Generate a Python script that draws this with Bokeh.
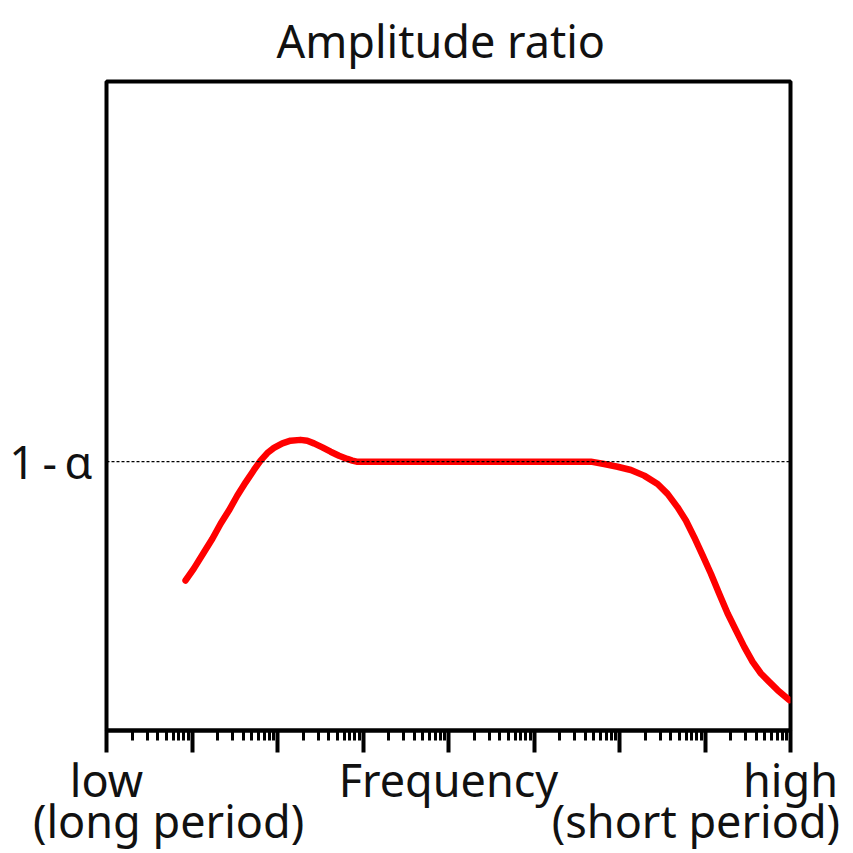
from bokeh.plotting import figure
from bokeh.models import Span, FixedTicker, Range1d, LogAxis
from bokeh.embed import file_html
from bokeh.resources import INLINE

# Data (frequency on log axis, amplitude ratio; 1-alpha == 1.0)
freq = [8.41, 10.5, 13.8, 17.3, 21.6, 27.0, 33.9, 42.4, 53.0, 63.4, 76.0, 90.8,
        114, 142, 186, 223, 267, 335, 418, 524, 657, 751, 843,
        462000, 661000, 949000, 1.358e6, 1.944e6, 2.79e6, 3.65e6, 4.78e6,
        5.98e6, 7.48e6, 9.38e6, 1.173e7, 1.467e7, 1.840e7, 2.301e7, 2.878e7,
        3.609e7, 4.512e7, 5.644e7, 7.08e7, 9.68e7]
amp = [0.558, 0.602, 0.663, 0.713, 0.769, 0.818, 0.874, 0.923, 0.969, 1.004,
       1.032, 1.051, 1.068, 1.078, 1.081, 1.078, 1.068, 1.053, 1.037, 1.022,
       1.010, 1.004, 1.0,
       1.0, 0.991, 0.981, 0.969, 0.948, 0.917, 0.880, 0.830,
       0.781, 0.719, 0.651, 0.583, 0.509, 0.435, 0.373, 0.311,
       0.255, 0.212, 0.181, 0.150, 0.113]

major_ticks = [1, 10, 100, 1e3, 1e4, 1e5, 1e6, 1e7, 1e8]
minor_ticks = [m * 10 ** d for d in range(8) for m in range(2, 10)]
ref_level = 1.0

title_text = "Amplitude ratio"
first_row = {1: "low", 1e4: "Frequency", 1e8: "high"}
second_row_ticks = [5.32, 7.83e6]
second_row = {5.32: "(long period)", 7.83e6: "(short period)"}
y_label = {1.0: "1\u2009-\u2009α"}

FONT = "Noto Sans"
TXT = "#111111"

p = figure(width=853, height=853, x_axis_type="log",
           x_range=Range1d(1, 1e8), y_range=Range1d(0, 2.414),
           output_backend="svg", toolbar_location=None,
           min_border_left=106, min_border_right=63,
           min_border_top=80, min_border_bottom=122)

p.grid.visible = False
p.outline_line_color = "black"
p.outline_line_width = 4
p.outline_line_alpha = 1.0

p.title.text = title_text
p.title.align = "left"
p.title.offset = 170
p.title.vertical_align = "top"
p.title.text_font = FONT
p.title.text_font_size = "45px"
p.title.text_font_style = "normal"
p.title.text_color = TXT
p.title.standoff = 18

ax = p.xaxis[0]
ax.ticker = FixedTicker(ticks=major_ticks, minor_ticks=minor_ticks)
ax.axis_line_width = 4
ax.major_tick_line_width = 4
ax.major_tick_out = 22
ax.major_tick_in = 0
ax.minor_tick_line_width = 3
ax.minor_tick_out = 10
ax.minor_tick_in = 0
ax.major_label_overrides = {t: first_row.get(t, "") for t in major_ticks}
ax.major_label_text_font = FONT
ax.major_label_text_font_size = "45px"
ax.major_label_text_color = TXT
ax.major_label_standoff = -4

ax2 = LogAxis(ticker=FixedTicker(ticks=second_row_ticks, minor_ticks=[]),
              major_label_overrides=second_row,
              axis_line_color=None, major_tick_line_color=None,
              minor_tick_line_color=None, major_tick_out=0, major_tick_in=0,
              minor_tick_out=0, minor_tick_in=0,
              major_label_text_font=FONT, major_label_text_font_size="45px",
              major_label_text_color=TXT, major_label_standoff=-23)
p.add_layout(ax2, "below")

ay = p.yaxis[0]
ay.ticker = FixedTicker(ticks=[ref_level], minor_ticks=[])
ay.major_label_overrides = y_label
ay.axis_line_color = None
ay.major_tick_line_color = None
ay.minor_tick_line_color = None
ay.major_tick_out = 0
ay.major_tick_in = 0
ay.major_label_text_font = FONT
ay.major_label_text_font_size = "45px"
ay.major_label_text_color = TXT
ay.major_label_standoff = 14

p.add_layout(Span(location=ref_level, dimension="width", line_color="black",
                  line_width=1.3, line_dash="3 2"))

p.line(freq, amp, line_color="#ff0000", line_width=6.5, line_cap="round",
       line_join="round")

open("out.html", "w").write(file_html(p, INLINE))
